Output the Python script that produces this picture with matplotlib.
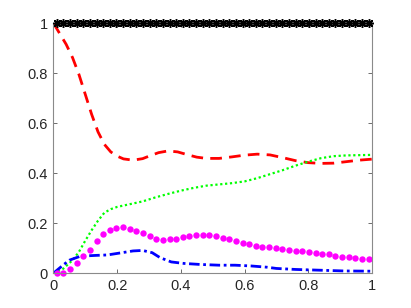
import numpy as np
import matplotlib
matplotlib.use("Agg")
import matplotlib.pyplot as plt

plt.rcParams['font.family'] = ['Liberation Sans', 'DejaVu Sans']

# marker series share one grid (cell midpoints)
n_pts = 48
x_pts = (np.arange(n_pts) + 0.5) / n_pts
black_vals = [1.0] * n_pts
magenta_vals = [0.0, 0.002, 0.015, 0.039, 0.068, 0.093, 0.128, 0.155, 0.172, 0.180,
                0.183, 0.177, 0.168, 0.159, 0.147, 0.138, 0.132, 0.135, 0.138, 0.143,
                0.149, 0.152, 0.152, 0.152, 0.148, 0.141, 0.135, 0.128, 0.120, 0.115,
                0.109, 0.106, 0.103, 0.099, 0.096, 0.093, 0.089, 0.088, 0.085, 0.080,
                0.076, 0.075, 0.068, 0.065, 0.063, 0.059, 0.056, 0.056]

# line series
red_x = [0.0, 0.04, 0.06, 0.08, 0.10, 0.12, 0.14, 0.16, 0.18, 0.20, 0.22, 0.25, 0.28,
         0.30, 0.33, 0.36, 0.39, 0.42, 0.45, 0.48, 0.52, 0.56, 0.60, 0.64, 0.68, 0.72,
         0.76, 0.80, 0.84, 0.88, 0.92, 0.96, 1.0]
red_y = [1.0, 0.915, 0.862, 0.795, 0.715, 0.635, 0.565, 0.515, 0.485, 0.468, 0.457,
         0.452, 0.458, 0.468, 0.482, 0.489, 0.485, 0.474, 0.464, 0.459, 0.459, 0.465,
         0.472, 0.476, 0.473, 0.462, 0.450, 0.442, 0.439, 0.440, 0.446, 0.452, 0.456]

green_x = [0.0, 0.03, 0.06, 0.08, 0.10, 0.12, 0.14, 0.16, 0.18, 0.20, 0.24, 0.28, 0.32,
           0.36, 0.40, 0.44, 0.48, 0.52, 0.56, 0.60, 0.64, 0.68, 0.72, 0.76, 0.80, 0.84,
           0.88, 0.92, 0.96, 1.0]
green_y = [0.0, 0.017, 0.052, 0.085, 0.130, 0.172, 0.210, 0.242, 0.256, 0.265, 0.276,
           0.287, 0.303, 0.317, 0.330, 0.341, 0.350, 0.355, 0.360, 0.367, 0.380, 0.396,
           0.412, 0.430, 0.446, 0.460, 0.468, 0.471, 0.472, 0.473]

blue_x = [0.0, 0.03, 0.05, 0.085, 0.13, 0.17, 0.21, 0.25, 0.28, 0.31, 0.335, 0.37,
          0.41, 0.46, 0.52, 0.57, 0.62, 0.67, 0.70, 0.76, 0.81, 0.86, 0.91, 1.0]
blue_y = [0.0, 0.032, 0.052, 0.068, 0.071, 0.073, 0.081, 0.089, 0.091, 0.082, 0.062,
          0.045, 0.039, 0.035, 0.032, 0.032, 0.029, 0.024, 0.019, 0.015, 0.013, 0.011,
          0.009, 0.008]

ticks = [0, 0.2, 0.4, 0.6, 0.8, 1]
tick_labels = ['0', '0.2', '0.4', '0.6', '0.8', '1']

fig = plt.figure(figsize=(4.11, 3.08), dpi=100)
ax = fig.add_axes([0.13, 0.113, 0.775, 0.812])

ax.plot(red_x, red_y, color='red', lw=2, dashes=(4.2, 2.6))
ax.plot(green_x, green_y, color='#00ff00', lw=1.6, dashes=(1, 1.2))
ax.plot(blue_x, blue_y, color='blue', lw=2, dashes=(3.8, 1.3, 1.0, 1.3))
ax.plot(x_pts, magenta_vals, 'o', color='magenta', ms=4.6, mec='none', clip_on=False)
ax.plot(x_pts, black_vals, ls='none', marker=(8, 2, 0), color='black', ms=6.2, mew=1.1,
        clip_on=False, zorder=5)

ax.set_xlim(0, 1)
ax.set_ylim(0, 1)
ax.set_xticks(ticks)
ax.set_xticklabels(tick_labels)
ax.set_yticks(ticks)
ax.set_yticklabels(tick_labels)
ax.tick_params(direction='in', length=3, width=0.6, color='#555555', labelcolor='#262626',
               labelsize=10.5, top=True, right=True)
ax.tick_params(axis='x', pad=4)
ax.tick_params(axis='y', pad=4)
for s in ax.spines.values():
    s.set_color('#8a8a8a')
    s.set_linewidth(0.8)

fig.savefig('out.png', dpi=100)
